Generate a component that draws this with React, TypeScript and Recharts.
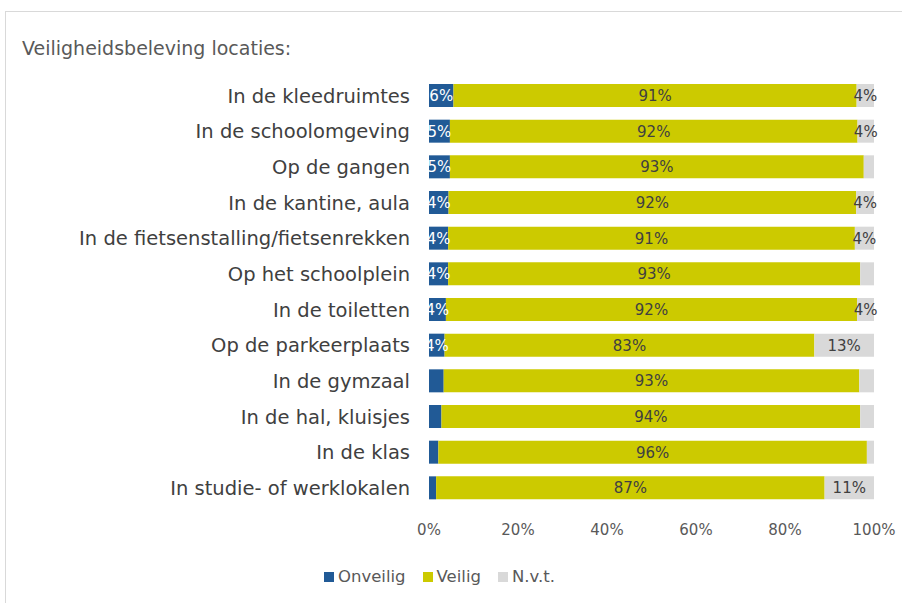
import React from 'react';
import { BarChart, Bar, XAxis, YAxis, LabelList } from 'recharts';

const categories = [
  'In de kleedruimtes',
  'In de schoolomgeving',
  'Op de gangen',
  'In de kantine, aula',
  'In de fietsenstalling/fietsenrekken',
  'Op het schoolplein',
  'In de toiletten',
  'Op de parkeerplaats',
  'In de gymzaal',
  'In de hal, kluisjes',
  'In de klas',
  'In studie- of werklokalen',
];
const onveilig = [5.5, 4.7, 4.7, 4.4, 4.3, 4.3, 3.8, 3.5, 3.3, 2.8, 2.1, 1.6];
const veilig = [90.6, 91.6, 93.0, 91.6, 91.4, 92.6, 92.4, 83.1, 93.4, 94.1, 96.3, 87.3];
const nvt = [3.9, 3.7, 2.3, 4.0, 4.3, 3.1, 3.8, 13.4, 3.3, 3.1, 1.6, 11.1];
const xTicks = [0, 20, 40, 60, 80, 100];
const seriesNames = ['Onveilig', 'Veilig', 'N.v.t.'];
const seriesColors = ['#215A96', '#CCCA00', '#D9D9D9'];
const title = 'Veiligheidsbeleving locaties:';

const data = categories.map((c, i) => ({
  name: c,
  onveilig: onveilig[i],
  veilig: veilig[i],
  nvt: nvt[i],
}));

const FONT = '"DejaVu Sans", sans-serif';

const makeLabel = (fill: string) => (props: any) => {
  const { x, y, width, height, value } = props;
  const r = Math.round(Number(value));
  if (r < 4) return null;
  return (
    <text
      x={Number(x) + Number(width) / 2}
      y={Number(y) + Number(height) / 2 + 1}
      textAnchor="middle"
      dominantBaseline="middle"
      fill={fill}
      fontSize={15}
      fontFamily={FONT}
    >
      {r}%
    </text>
  );
};

export default function App() {
  return (
    <div style={{ position: 'absolute', left: 0, top: 0, width: 902, height: 603, overflow: 'hidden', background: '#fff' }}>
      <div
        style={{
          position: 'absolute',
          left: 5,
          top: 11,
          width: 1000,
          height: 800,
          border: '1.5px solid #D9D9D9',
          boxSizing: 'border-box',
        }}
      />
      <div
        style={{
          position: 'absolute',
          left: 22,
          top: 36,
          fontFamily: FONT,
          fontSize: 19,
          lineHeight: '24px',
          color: '#595959',
          whiteSpace: 'nowrap',
        }}
      >
        {title}
      </div>
      <div style={{ position: 'absolute', left: 0, top: 0 }}>
        <BarChart
          width={902}
          height={603}
          data={data}
          layout="vertical"
          margin={{ top: 78, right: 28, bottom: 67, left: 0 }}
          barSize={23}
        >
          <XAxis
            type="number"
            domain={[0, 100]}
            ticks={xTicks}
            tickFormatter={(v: number) => `${v}%`}
            axisLine={false}
            tickLine={false}
            tick={{ fill: '#595959', fontSize: 15, fontFamily: FONT }}
            tickMargin={12}
            height={30}
            interval={0}
          />
          <YAxis
            type="category"
            dataKey="name"
            width={429}
            axisLine={false}
            tickLine={false}
            tickSize={0}
            tickMargin={19}
            interval={0}
            tick={{ fill: '#404040', fontSize: 19.5, fontFamily: FONT }}
          />
          <Bar dataKey="onveilig" name={seriesNames[0]} stackId="a" fill={seriesColors[0]} isAnimationActive={false}>
            <LabelList dataKey="onveilig" content={makeLabel('#FFFFFF')} />
          </Bar>
          <Bar dataKey="veilig" name={seriesNames[1]} stackId="a" fill={seriesColors[1]} isAnimationActive={false}>
            <LabelList dataKey="veilig" content={makeLabel('#404040')} />
          </Bar>
          <Bar dataKey="nvt" name={seriesNames[2]} stackId="a" fill={seriesColors[2]} isAnimationActive={false}>
            <LabelList dataKey="nvt" content={makeLabel('#404040')} />
          </Bar>
        </BarChart>
      </div>
      <div
        style={{
          position: 'absolute',
          left: 324,
          top: 565,
          display: 'flex',
          alignItems: 'center',
          fontFamily: FONT,
          fontSize: 16.5,
          lineHeight: '24px',
          color: '#595959',
        }}
      >
        {seriesNames.map((n, i) => (
          <div key={n} style={{ display: 'flex', alignItems: 'center', marginRight: 17 }}>
            <span style={{ display: 'inline-block', width: 10, height: 10, background: seriesColors[i], marginRight: 4 }} />
            <span>{n}</span>
          </div>
        ))}
      </div>
    </div>
  );
}
